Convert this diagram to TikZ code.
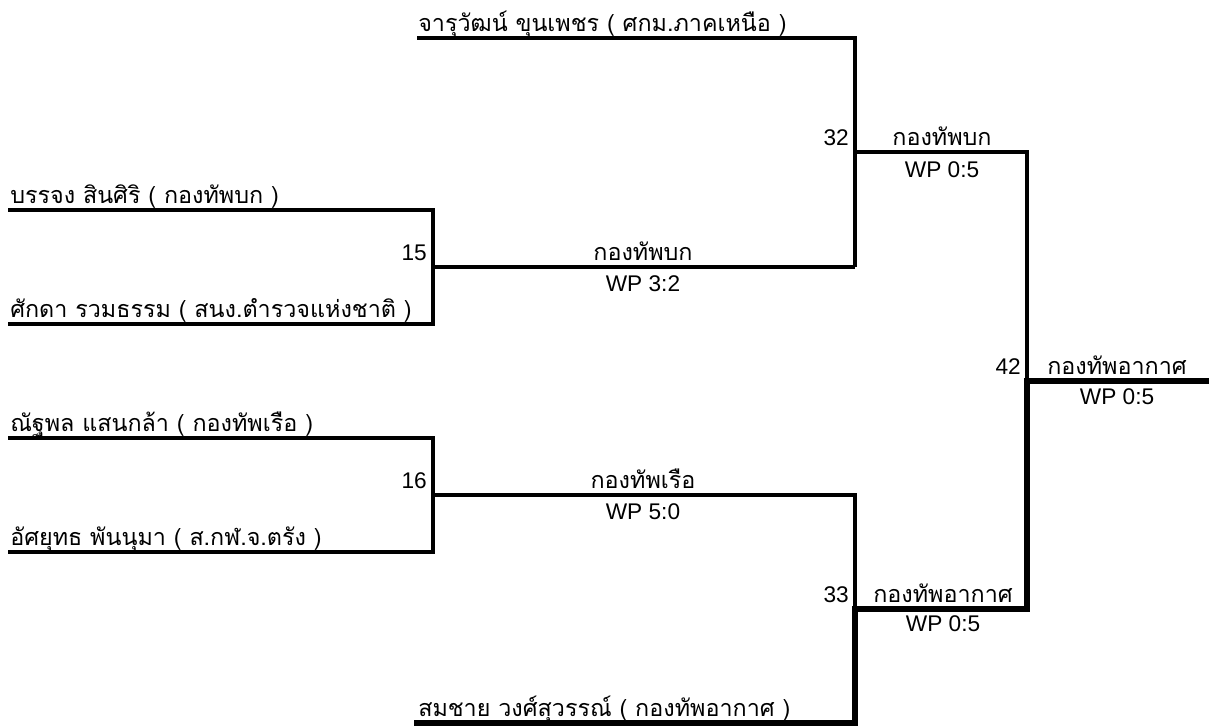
\documentclass[tikz,border=0pt]{standalone}
\usepackage{fontspec}
\setmainfont{Liberation Sans}
\newfontfamily\thaifont[Script=Thai]{Loma}
\begin{document}
\begin{tikzpicture}[x=0.75pt,y=-0.75pt,
  thinline/.style={line width=2.3pt},
  thickline/.style={line width=5pt},
  playerlbl/.style={font=\thaifont\fontsize{17.5}{20}\selectfont, anchor=base west, inner sep=0pt},
  teamlbl/.style={font=\thaifont\fontsize{17.5}{20}\selectfont, anchor=base, inner sep=0pt},
  scorelbl/.style={font=\fontsize{17}{20}\selectfont, anchor=base, inner sep=0pt},
  matchlbl/.style={font=\fontsize{17}{20}\selectfont, anchor=base east, inner sep=0pt}]
\useasboundingbox (0,0) rectangle (1209,726);
% coordinates
\coordinate (a1) at (417,38);   \coordinate (a2) at (855,38);
\coordinate (b1) at (8,210);    \coordinate (b2) at (433,210);
\coordinate (c1) at (8,324);    \coordinate (c2) at (433,324);
\coordinate (m15) at (433,267); \coordinate (m15r) at (855,267);
\coordinate (m32) at (855,152); \coordinate (m32r) at (1027,152);
\coordinate (d1) at (8,438);    \coordinate (d2) at (433,438);
\coordinate (e1) at (8,552);    \coordinate (e2) at (433,552);
\coordinate (m16) at (433,495); \coordinate (m16r) at (855,495);
\coordinate (m33) at (855,609); \coordinate (m33r) at (1027,609);
\coordinate (f1) at (417,723);  \coordinate (f2) at (855,723);
\coordinate (m42) at (1027,381); \coordinate (m42r) at (1209,381);
% thin lines
\draw[thinline] (b1) -- (b2) -- (c2) -- (c1);
\draw[thinline] (m15) -- (m15r);
\draw[thinline] (a1) -- (a2) -- (m15r);
\draw[thinline] (m32) -- (m32r) -- (m42);
\draw[thinline] (d1) -- (d2) -- (e2) -- (e1);
\draw[thinline] (m16) -- (m16r) -- (m33);
% thick lines (winner path)
\draw[thickline, line cap=rect] (f1) -- (f2) -- (m33) -- (m33r) -- (m42) -- (m42r);
% names
\node[playerlbl] (na) at (418,31) {จารุวัฒน์ ขุนเพชร ( ศกม.ภาคเหนือ )};
\node[playerlbl] (nb) at (10,203) {บรรจง สินศิริ ( กองทัพบก )};
\node[playerlbl] (nc) at (10,317) {ศักดา รวมธรรม ( สนง.ตำรวจแห่งชาติ )};
\node[playerlbl] (nd) at (10,431) {ณัฐพล แสนกล้า ( กองทัพเรือ )};
\node[playerlbl] (ne) at (10,545) {อัศยุทธ พันนุมา ( ส.กฬ.จ.ตรัง )};
\node[playerlbl] (nf) at (418,716) {สมชาย วงศ์สุวรรณ์ ( กองทัพอากาศ )};
% match numbers
\node[matchlbl] (n15) at (427,260) {15};
\node[matchlbl] (n16) at (427,488) {16};
\node[matchlbl] (n32) at (849,145) {32};
\node[matchlbl] (n33) at (849,602) {33};
\node[matchlbl] (n42) at (1021,374) {42};
% winners & scores
\node[teamlbl] (w15) at (643,260) {กองทัพบก};
\node[scorelbl] (s15) at (643,291) {WP 3:2};
\node[teamlbl] (w16) at (643,488) {กองทัพเรือ};
\node[scorelbl] (s16) at (643,519) {WP 5:0};
\node[teamlbl] (w32) at (942,145) {กองทัพบก};
\node[scorelbl] (s32) at (942,177) {WP 0:5};
\node[teamlbl] (w33) at (943,602) {กองทัพอากาศ};
\node[scorelbl] (s33) at (943,631) {WP 0:5};
\node[teamlbl] (w42) at (1117,374) {กองทัพอากาศ};
\node[scorelbl] (s42) at (1117,404) {WP 0:5};
\end{tikzpicture}
\end{document}
